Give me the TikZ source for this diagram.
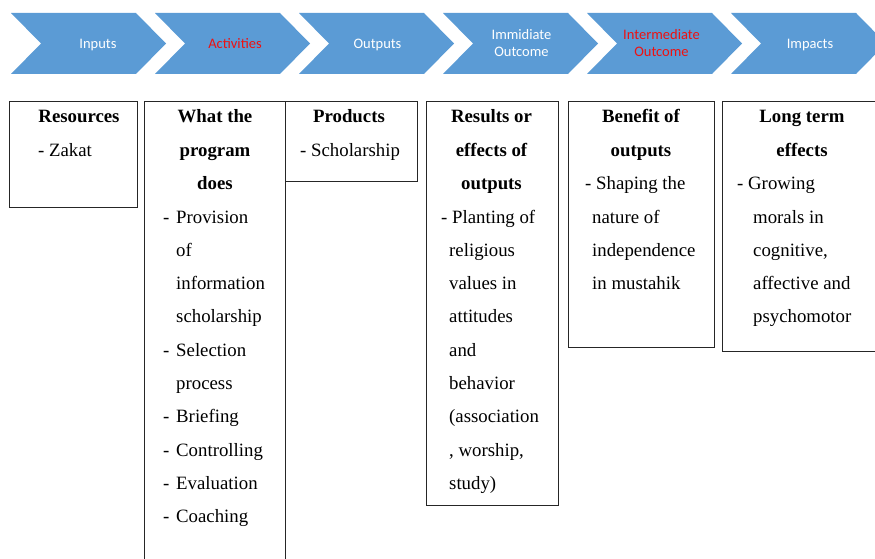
\documentclass[tikz,border=0pt]{standalone}
\usepackage{fontspec}
\setmainfont{Liberation Serif}
\newfontfamily\calib{Carlito}
\definecolor{chev}{HTML}{5B9BD5}
\definecolor{chevred}{HTML}{EE1111}
\tikzset{
  chevtxt/.style={font=\calib\fontsize{14.5}{17}\selectfont, text=white, inner sep=0pt, anchor=base, align=center},
  chevred/.style={chevtxt, text=chevred},
  box/.style={draw=black!85, line width=1pt, inner sep=0pt, anchor=north west},
  head/.style={font=\fontsize{18.8}{22}\selectfont\bfseries, inner sep=0pt, anchor=base},
  txt/.style={font=\fontsize{18.8}{22}\selectfont, inner sep=0pt, anchor=base west},
}
\begin{document}
\begin{tikzpicture}[x=1pt,y=-1pt]
\useasboundingbox (0,0) rectangle (875,559);
\clip (0,0) rectangle (875,559);
% chevrons
\foreach \s in {11,155,299,443,587,731}{
  \fill[chev] (\s,13) -- (\s+125,13) -- (\s+155,43.5) -- (\s+125,74) -- (\s,74) -- (\s+30,43.5) -- cycle;
}
\node[chevtxt] (c1) at (98,49) {Inputs};
\node[chevred] (c2) at (235,49) {Activities};
\node[chevtxt] (c3) at (377.5,49) {Outputs};
\node[chevtxt] (c4a) at (521.5,40) {Immidiate};
\node[chevtxt] (c4b) at (521.5,57) {Outcome};
\node[chevred] (c5a) at (661.5,40) {Intermediate};
\node[chevred] (c5b) at (661.5,57) {Outcome};
\node[chevtxt] (c6) at (810,49) {Impacts};
% boxes
\node[box, minimum width=128pt, minimum height=106pt] (res) at (9,101) {};
\node[box, minimum width=141pt, minimum height=480pt] (act) at (143.5,101) {};
\node[box, minimum width=132.5pt, minimum height=80pt] (prod) at (284.5,101) {};
\node[box, minimum width=131.5pt, minimum height=404pt] (resu) at (426,101) {};
\node[box, minimum width=146pt, minimum height=245.5pt] (ben) at (568,101) {};
\node[box, minimum width=170pt, minimum height=249.5pt] (lt) at (721.5,101) {};
% Resources
\node[head] (r1) at (79,123) {Resources};
\node[txt] (r2) at (38,156.3) {- Zakat};
% Activities
\node[head] (a1) at (215,123) {What the};
\node[head] (a2) at (215,156.3) {program};
\node[head] (a3) at (215,189.6) {does};
\node[txt] (a4) at (163,223) {-};
\node[txt] (a4t) at (176,223) {Provision};
\node[txt] (a5) at (176,256.3) {of};
\node[txt] (a6) at (176,289.6) {information};
\node[txt] (a7) at (176,322.9) {scholarship};
\node[txt] (a8) at (163,356.2) {-};
\node[txt] (a8t) at (176,356.2) {Selection};
\node[txt] (a9) at (176,389.5) {process};
\node[txt] (a10) at (163,422.8) {-};
\node[txt] (a10t) at (176,422.8) {Briefing};
\node[txt] (a11) at (163,456.1) {-};
\node[txt] (a11t) at (176,456.1) {Controlling};
\node[txt] (a12) at (163,489.4) {-};
\node[txt] (a12t) at (176,489.4) {Evaluation};
\node[txt] (a13) at (163,522.7) {-};
\node[txt] (a13t) at (176,522.7) {Coaching};
% Products
\node[head] (p1) at (349,123) {Products};
\node[txt] (p2) at (300,156.3) {- Scholarship};
% Results
\node[head] (s1) at (491.5,123) {Results or};
\node[head] (s2) at (491.5,156.3) {effects of};
\node[head] (s3) at (491.5,189.6) {outputs};
\node[txt] (s4) at (441,223) {- Planting of};
\node[txt] (s5) at (449,256.3) {religious};
\node[txt] (s6) at (449,289.6) {values in};
\node[txt] (s7) at (449,322.9) {attitudes};
\node[txt] (s8) at (449,356.2) {and};
\node[txt] (s9) at (449,389.5) {behavior};
\node[txt] (s10) at (449,422.8) {(association};
\node[txt] (s11) at (449,456.1) {, worship,};
\node[txt] (s12) at (449,489.4) {study)};
% Benefit
\node[head] (b1) at (641,123) {Benefit of};
\node[head] (b2) at (641,156.3) {outputs};
\node[txt] (b3) at (585,189.6) {- Shaping the};
\node[txt] (b4) at (592,223) {nature of};
\node[txt] (b5) at (592,256.3) {independence};
\node[txt] (b6) at (592,289.6) {in mustahik};
% Long term
\node[head] (l1) at (802,123) {Long term};
\node[head] (l2) at (802,156.3) {effects};
\node[txt] (l3) at (737,189.6) {- Growing};
\node[txt] (l4) at (753,223) {morals in};
\node[txt] (l5) at (753,256.3) {cognitive,};
\node[txt] (l6) at (753,289.6) {affective and};
\node[txt] (l7) at (753,322.9) {psychomotor};
\end{tikzpicture}
\end{document}
